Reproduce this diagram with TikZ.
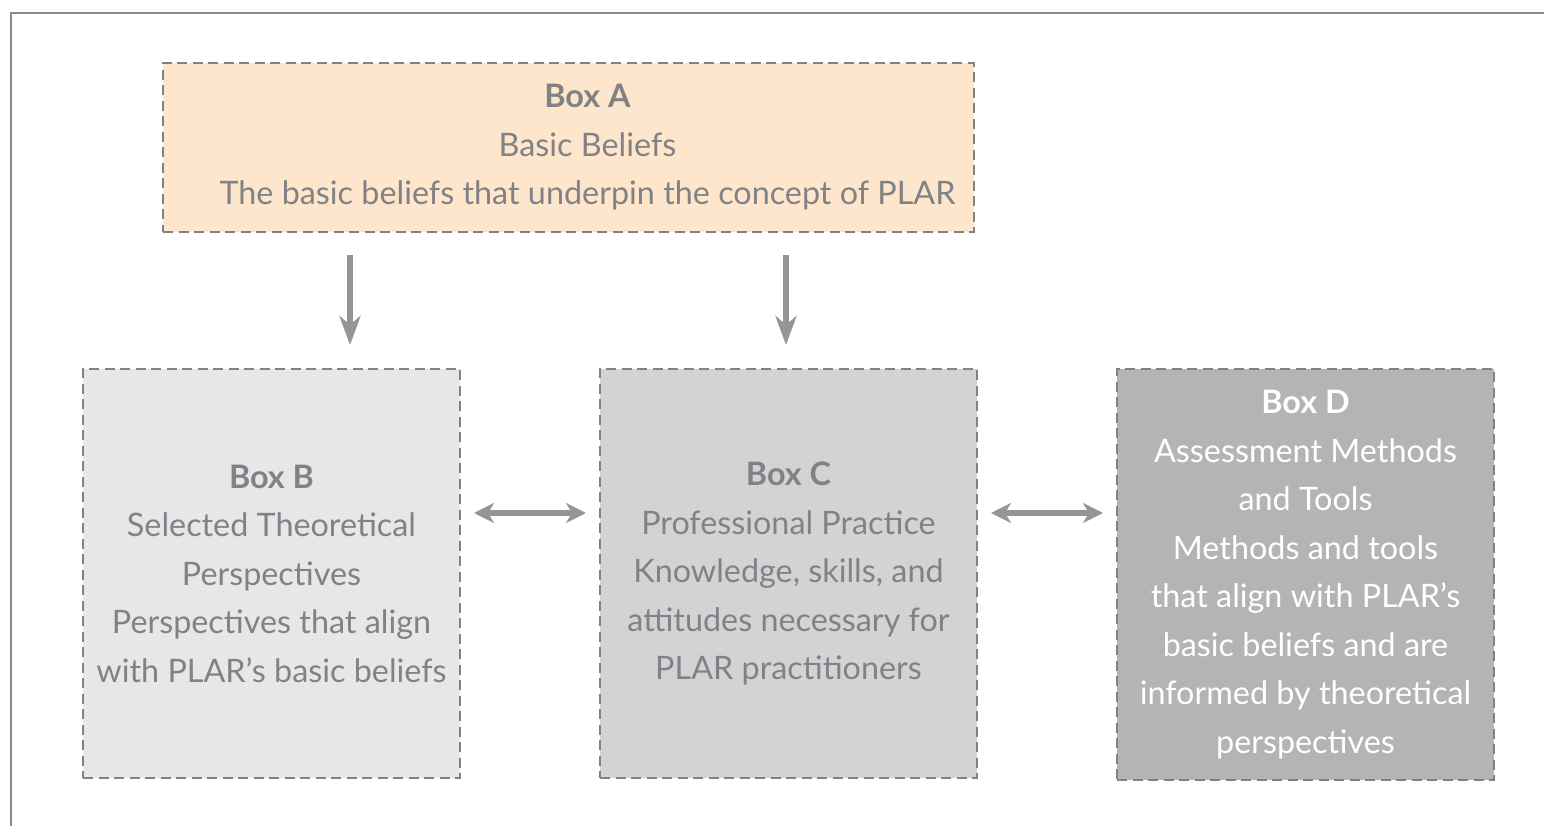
\documentclass[tikz,border=0pt]{standalone}
\usepackage{fontspec}
\setmainfont{Lato}
\usetikzlibrary{positioning,arrows.meta}

\definecolor{framegray}{HTML}{8A8A8C}
\definecolor{linegray}{HTML}{808285}
\definecolor{arrowgray}{HTML}{939598}
\definecolor{textgray}{HTML}{808285}
\definecolor{fillA}{HTML}{FDE6CC}
\definecolor{fillB}{HTML}{E6E7E8}
\definecolor{fillC}{HTML}{D1D3D4}
\definecolor{fillD}{HTML}{B3B4B6}

\tikzset{
  box/.style={draw=linegray, line width=0.055cm, dash pattern=on 0.2cm off 0.11cm,
    align=center, inner sep=0pt, outer sep=0pt, minimum width=7.54cm, minimum height=8.18cm,
    text=textgray, font=\fontsize{18.4pt}{27.6pt}\selectfont},
  arr/.style={color=arrowgray, line width=0.115cm},
  down/.style={-{Stealth[length=0.58cm,width=0.42cm,inset=0.18cm]}},
  both/.style={{Stealth[length=0.4cm,width=0.4cm,inset=0.12cm]}-{Stealth[length=0.4cm,width=0.4cm,inset=0.12cm]}},
}

\begin{document}
\begin{tikzpicture}[node distance=2.8cm]
      \useasboundingbox (0,0) rectangle (30.88,-16.52);
      \draw[framegray, line width=0.04cm] (0.22,-16.6) -- (0.22,-0.26) -- (31,-0.26);

      \node[box,fill=fillA,minimum width=16.22cm,minimum height=3.38cm] (A) at (11.37,-2.95)
        {\hspace*{0.76cm}\textbf{Box A}\\\hspace*{0.76cm}Basic Beliefs\\\hspace*{0.76cm}The basic beliefs that underpin the concept of PLAR};
      \node[box,fill=fillB] (B) at (5.43,-11.47)
        {\textbf{Box B}\\Selected Theoretical\\Perspectives\\Perspectives that align\\with PLAR’s basic beliefs};
      \node[box,fill=fillC] (C) [right=of B]
        {\textbf{Box C}\\Professional Practice\\Knowledge, skills, and\\attitudes necessary for\\PLAR practitioners};
      \node[box,fill=fillD,text=white,minimum height=8.22cm,yshift=-0.02cm] (D) [right=of C]
        {\textbf{Box D}\\Assessment Methods\\and Tools\\Methods and tools\\that align with PLAR’s\\basic beliefs and are\\informed by theoretical\\perspectives};

      \coordinate (ab) at ([xshift=1.57cm]B.north);
      \coordinate (ac) at ([xshift=-0.05cm]C.north);

      \path[arr,down,shorten <=0.46cm,shorten >=0.48cm]
      (ab |- A.south) edge (ab)
      (ac |- A.south) edge (ac)
      ;
      \path[arr,both,shorten <=0.28cm,shorten >=0.28cm]
      ([yshift=1.21cm]B.east) edge ([yshift=1.21cm]C.west)
      ([yshift=1.21cm]C.east) edge ([yshift=1.23cm]D.west)
      ;
    \end{tikzpicture}
\end{document}
